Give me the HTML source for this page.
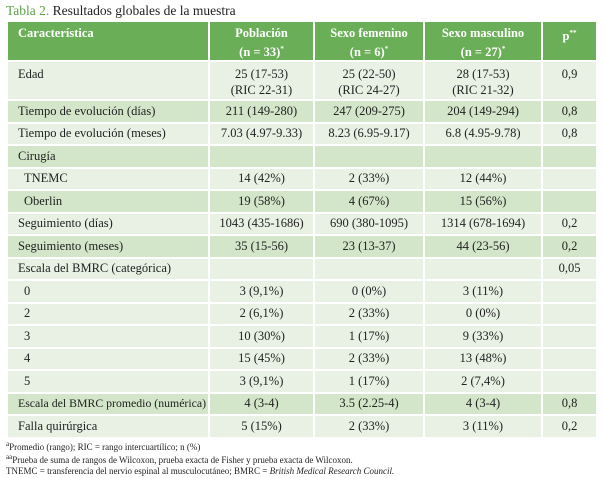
<!DOCTYPE html>
<html><head><meta charset="utf-8"><style>
body{margin:0;background:#fff;width:605px;height:478px;overflow:hidden;font-family:"Liberation Serif","DejaVu Serif",serif;color:#222}
.t{position:absolute;left:6px;top:3px;font-size:13.5px}
.t b{color:#5fa14a;font-weight:normal}
table{position:absolute;left:6px;top:20px;border-collapse:collapse;table-layout:fixed;width:592px;font-size:12.5px}
td{border:2px solid #fff;padding:0 0 0 10px;background:#e8f1e3;height:20.5px;vertical-align:middle;white-space:nowrap;overflow:hidden}
td.c{text-align:center;padding:0}
tr.d td{background:#d3e6c9}
tr.h td{background:#6aaf58;color:#fff;font-weight:bold;height:35px;vertical-align:top;padding-top:3px;line-height:16px}
tr.e td{height:33px;vertical-align:top;padding-top:4px;line-height:16px}
sup{font-size:7px}
.i{padding-left:16px}
.f{position:absolute;left:6px;font-size:9px;color:#222}
</style></head><body>
<div class="t"><b>Tabla 2.</b> Resultados globales de la muestra</div>
<table>
<colgroup><col style="width:202px"><col style="width:105px"><col style="width:110px"><col style="width:118px"><col></colgroup>
<tr class="h"><td>Característica</td><td class="c">Población<br>(n = 33)<sup>*</sup></td><td class="c">Sexo femenino<br>(n = 6)<sup>*</sup></td><td class="c">Sexo masculino<br>(n = 27)<sup>*</sup></td><td class="c">p<sup>**</sup></td></tr>
<tr class="e"><td>Edad</td><td class="c">25 (17-53)<br>(RIC 22-31)</td><td class="c">25 (22-50)<br>(RIC 24-27)</td><td class="c">28 (17-53)<br>(RIC 21-32)</td><td class="c">0,9</td></tr>
<tr class="d"><td>Tiempo de evolución (días)</td><td class="c">211 (149-280)</td><td class="c">247 (209-275)</td><td class="c">204 (149-294)</td><td class="c">0,8</td></tr>
<tr><td>Tiempo de evolución (meses)</td><td class="c">7.03 (4.97-9.33)</td><td class="c">8.23 (6.95-9.17)</td><td class="c">6.8 (4.95-9.78)</td><td class="c">0,8</td></tr>
<tr class="d"><td>Cirugía</td><td></td><td></td><td></td><td></td></tr>
<tr><td class="i">TNEMC</td><td class="c">14 (42%)</td><td class="c">2 (33%)</td><td class="c">12 (44%)</td><td></td></tr>
<tr class="d"><td class="i">Oberlin</td><td class="c">19 (58%)</td><td class="c">4 (67%)</td><td class="c">15 (56%)</td><td></td></tr>
<tr><td>Seguimiento (días)</td><td class="c">1043 (435-1686)</td><td class="c">690 (380-1095)</td><td class="c">1314 (678-1694)</td><td class="c">0,2</td></tr>
<tr class="d"><td>Seguimiento (meses)</td><td class="c">35 (15-56)</td><td class="c">23 (13-37)</td><td class="c">44 (23-56)</td><td class="c">0,2</td></tr>
<tr><td>Escala del BMRC (categórica)</td><td></td><td></td><td></td><td class="c">0,05</td></tr>
<tr><td class="i">0</td><td class="c">3 (9,1%)</td><td class="c">0 (0%)</td><td class="c">3 (11%)</td><td></td></tr>
<tr><td class="i">2</td><td class="c">2 (6,1%)</td><td class="c">2 (33%)</td><td class="c">0 (0%)</td><td></td></tr>
<tr><td class="i">3</td><td class="c">10 (30%)</td><td class="c">1 (17%)</td><td class="c">9 (33%)</td><td></td></tr>
<tr><td class="i">4</td><td class="c">15 (45%)</td><td class="c">2 (33%)</td><td class="c">13 (48%)</td><td></td></tr>
<tr><td class="i">5</td><td class="c">3 (9,1%)</td><td class="c">1 (17%)</td><td class="c">2 (7,4%)</td><td></td></tr>
<tr class="d"><td style="font-size:11.8px">Escala del BMRC promedio (numérica)</td><td class="c">4 (3-4)</td><td class="c">3.5 (2.25-4)</td><td class="c">4 (3-4)</td><td class="c">0,8</td></tr>
<tr><td>Falla quirúrgica</td><td class="c">5 (15%)</td><td class="c">2 (33%)</td><td class="c">3 (11%)</td><td class="c">0,2</td></tr>
</table>
<div class="f" style="top:440px"><sup>a</sup>Promedio (rango); RIC = rango intercuartílico; n (%)</div>
<div class="f" style="top:453px"><sup>aa</sup>Prueba de suma de rangos de Wilcoxon, prueba exacta de Fisher y prueba exacta de Wilcoxon.</div>
<div class="f" style="top:466px">TNEMC = transferencia del nervio espinal al musculocutáneo; BMRC = <i>British Medical Research Council.</i></div>
</body></html>
